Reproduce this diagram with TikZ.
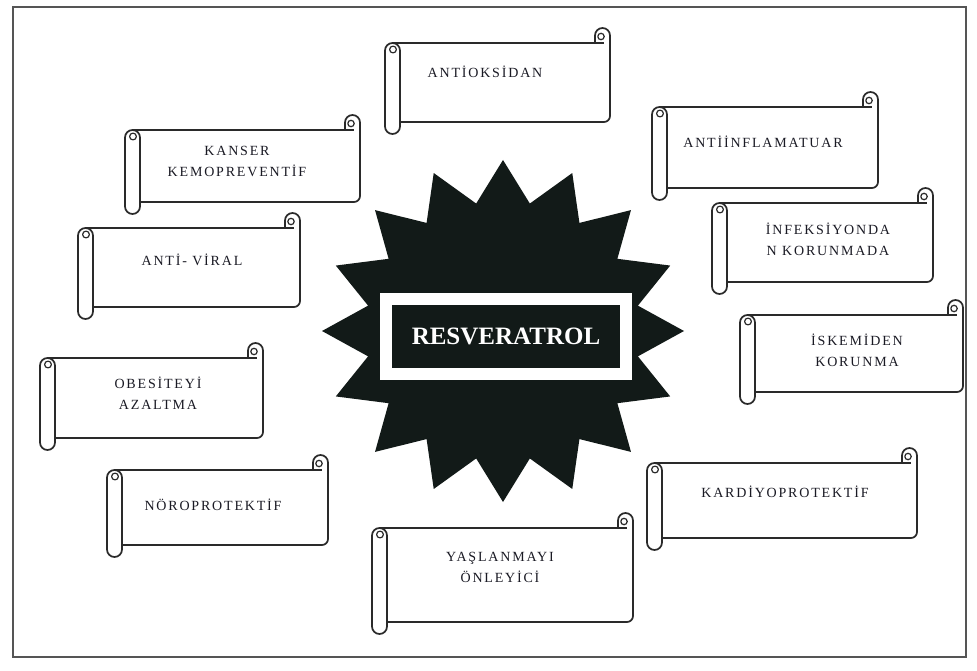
\documentclass[tikz,border=0pt]{standalone}
\usepackage{fontspec}
\setmainfont{Liberation Serif}
\newfontfamily\scrollfont[LetterSpace=13]{Liberation Serif}
\definecolor{starfill}{HTML}{121A18}
\definecolor{scrollcol}{HTML}{2A2A2A}
\definecolor{framecol}{HTML}{555555}
\definecolor{txtcol}{HTML}{1A1A24}
\tikzset{
  scrollline/.style={draw=scrollcol, line width=1.7pt, line join=round},
  lbl/.style={font=\scrollfont\fontsize{14}{21}\selectfont, text=txtcol, align=center, inner sep=0pt},
  corebox/.style={draw=white, line width=12pt, fill=starfill, text=white,
    font=\bfseries\fontsize{25}{28}\selectfont, minimum width=240pt, minimum height=75pt, inner sep=0pt},
}
% #1 = left of roll, #2 = top of sheet, #3 = right edge, #4 = bottom of sheet
\newcommand\scrollshape[4]{%
  \filldraw[scrollline, fill=white]
    ({#1+7.5},#2) -- ({#3-15},#2) -- ({#3-15},{#2-7.5})
    arc[start angle=180, end angle=360, radius=7.5]
    -- (#3,{#4-6}) arc[start angle=0, end angle=90, radius=6]
    -- ({#1+7.5},#4) -- cycle;
  \draw[scrollline, line width=1.2pt] ({#3-9},{#2-6.5}) circle[radius=3.2];
  \draw[scrollline, line width=1.2pt] ({#3-15},#2) -- ({#3-5.8},#2);
  \filldraw[scrollline, fill=white]
    (#1,{#2+7.5}) arc[start angle=180, end angle=360, radius=7.5]
    -- ({#1+15},{#4+4.5}) arc[start angle=0, end angle=180, radius=7.5]
    -- cycle;
  \draw[scrollline, line width=1.2pt] ({#1+8},{#2+6.5}) circle[radius=3.4];
}
\begin{document}
\begin{tikzpicture}[x=1pt, y=-1pt]
\useasboundingbox (0,0) rectangle (977,671);
\fill[white] (0,0) rectangle (977,671);
\draw[framecol, line width=2pt] (13,7) rectangle (966,657);

% central star (16 points, stretched horizontally)
\fill[starfill] plot[samples at={0,...,31}, variable=\i]
  ({503+181*(0.88+0.12*cos(180*\i))*cos(90+\i*11.25)},
   {331-171*(0.88+0.12*cos(180*\i))*sin(90+\i*11.25)}) -- cycle;
\node[corebox] (core) at (506,336.5) {RESVERATROL};

% scrolls
\scrollshape{385}{43}{610}{122}
\node[lbl] (antiox) at (485,72) {ANTİOKSİDAN};

\scrollshape{125}{130}{360}{202}
\node[lbl] (kanser) at (237,161) {KANSER\\KEMOPREVENTİF};

\scrollshape{78}{228}{300}{307}
\node[lbl] (viral) at (192,260) {ANTİ- VİRAL};

\scrollshape{40}{358}{263}{438}
\node[lbl] (obes) at (158,393) {OBESİTEYİ\\AZALTMA};

\scrollshape{107}{470}{328}{545}
\node[lbl] (noro) at (213,505) {NÖROPROTEKTİF};

\scrollshape{372}{528}{633}{622}
\node[lbl] (yasl) at (500,567) {YAŞLANMAYI\\ÖNLEYİCİ};

\scrollshape{647}{463}{917}{538}
\node[lbl] (kardiyo) at (785,492) {KARDİYOPROTEKTİF};

\scrollshape{740}{315}{963}{392}
\node[lbl] (iskemi) at (857,350) {İSKEMİDEN\\KORUNMA};

\scrollshape{712}{203}{933}{282}
\node[lbl] (infek) at (828,239) {İNFEKSİYONDA\\N KORUNMADA};

\scrollshape{652}{107}{878}{188}
\node[lbl] (inflam) at (763,142) {ANTİİNFLAMATUAR};
\end{tikzpicture}
\end{document}
